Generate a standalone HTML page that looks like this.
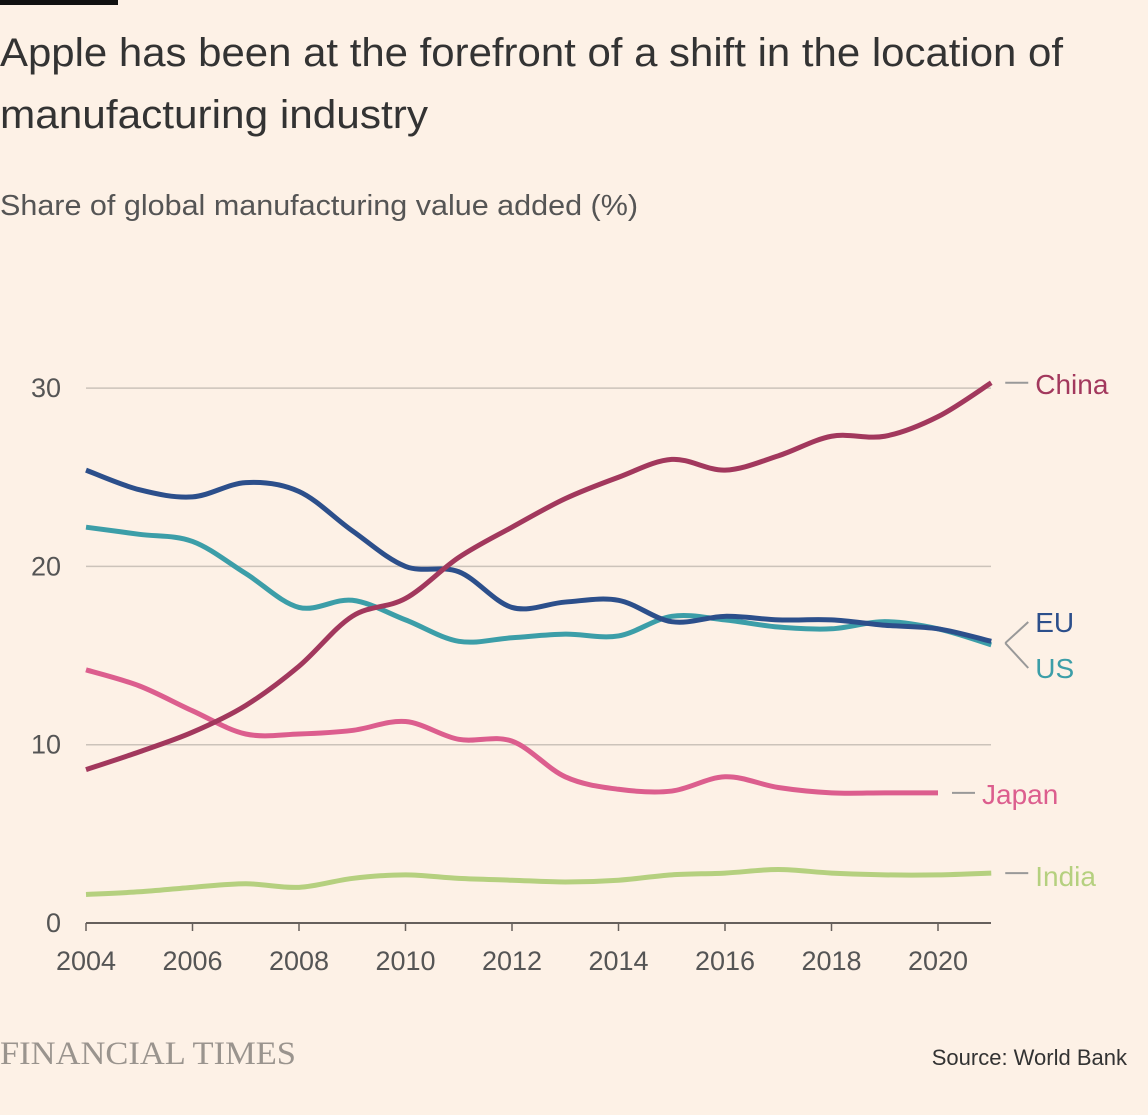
<!DOCTYPE html>
<html><head><meta charset="utf-8"><style>
body{margin:0;background:#fdf1e6;width:1148px;height:1115px;overflow:hidden;font-family:"Liberation Sans",sans-serif;}
svg{display:block}
</style></head><body>
<svg id="chart" width="1148" height="1115">
<rect x="0" y="0" width="118" height="5" fill="#111"/>
<text x="0" y="66" font-size="40" fill="#333" textLength="1063" lengthAdjust="spacingAndGlyphs">Apple has been at the forefront of a shift in the location of</text>
<text x="0" y="128" font-size="40" fill="#333" textLength="428" lengthAdjust="spacingAndGlyphs">manufacturing industry</text>
<text x="0" y="215" font-size="29" fill="#555" textLength="638" lengthAdjust="spacingAndGlyphs">Share of global manufacturing value added (%)</text>
<g id="grid"></g><g id="lines"></g><g id="labels"></g>
<text x="0" y="1064" font-size="33" fill="#9a948e" font-family="Liberation Serif, serif" textLength="296" lengthAdjust="spacingAndGlyphs">FINANCIAL TIMES</text>
<text x="1127" y="1065" font-size="22" fill="#333" text-anchor="end">Source: World Bank</text>
</svg>
<script>
const years=[2004,2005,2006,2007,2008,2009,2010,2011,2012,2013,2014,2015,2016,2017,2018,2019,2020,2021];
const china=[8.6,9.6,10.7,12.2,14.4,17.2,18.2,20.5,22.2,23.8,25.0,26.0,25.4,26.2,27.3,27.3,28.4,30.3];
const eu=[25.4,24.3,23.9,24.7,24.2,22.0,20.0,19.7,17.7,18.0,18.1,16.9,17.2,17.0,17.0,16.7,16.5,15.8];
const us=[22.2,21.8,21.4,19.6,17.7,18.1,17.0,15.8,16.0,16.2,16.1,17.2,17.0,16.6,16.5,16.9,16.5,15.6];
const japan=[14.2,13.3,11.9,10.6,10.6,10.8,11.3,10.3,10.2,8.2,7.5,7.4,8.2,7.6,7.3,7.3,7.3];
const india=[1.6,1.75,2.0,2.2,2.0,2.5,2.7,2.5,2.4,2.3,2.4,2.7,2.8,3.0,2.8,2.7,2.7,2.8];
const yTicks=[0,10,20,30];
const xTicks=[2004,2006,2008,2010,2012,2014,2016,2018,2020];
const NS="http://www.w3.org/2000/svg";
const x=v=>86+(v-2004)*53.25, y=v=>923-v*17.83;
function mk(t,a,p){const e=document.createElementNS(NS,t);for(const k in a)e.setAttribute(k,a[k]);p.appendChild(e);return e;}
const grid=document.getElementById('grid'),lines=document.getElementById('lines'),labels=document.getElementById('labels');
yTicks.forEach(t=>{
 const l=mk('line',{x1:86,x2:991,y1:y(t),y2:y(t),stroke:t===0?'#66605c':'#ccc3ba','stroke-width':t===0?2:1.5},grid);
 
 
 const tx=mk('text',{x:61,y:y(t)+9,'font-size':27,fill:'#555','text-anchor':'end'},grid);tx.textContent=t;
 
 
});
xTicks.forEach(t=>{
 const l=mk('line',{x1:x(t),x2:x(t),y1:923,y2:931,stroke:'#66605c','stroke-width':1.5},grid);
 
 
 const tx=mk('text',{x:x(t),y:970,'font-size':27,fill:'#555','text-anchor':'middle'},grid);tx.textContent=t;
 
 
});
function path(vals){
 const p=vals.map((v,i)=>[x(years[i]),y(v)]);let d='M'+p[0];
 for(let i=0;i<p.length-1;i++){const p0=p[i-1]||p[i],p1=p[i],p2=p[i+1],p3=p[i+2]||p2;
  d+=` C${p1[0]+(p2[0]-p0[0])/6},${p1[1]+(p2[1]-p0[1])/6} ${p2[0]-(p3[0]-p1[0])/6},${p2[1]-(p3[1]-p1[1])/6} ${p2[0]},${p2[1]}`;}
 return d;}
const series=[['india',india,'#b5d07f'],['japan',japan,'#dc5e8e'],['us',us,'#3c9ea8'],['eu',eu,'#2c4f8b'],['china',china,'#a2385d']];
series.forEach(([n,v,c])=>{const e=mk('path',{d:path(v),fill:'none',stroke:c,'stroke-width':5,'stroke-linejoin':'round'},lines);
 
 });
const lbl=[['China',china,'#a2385d',2021,384,null],['India',india,'#b5d07f',2021,876,null],['Japan',japan,'#dc5e8e',2020,794,null],['EU',eu,'#2c4f8b',2021,622,'up'],['US',us,'#3c9ea8',2021,668,'down']];
lbl.forEach(([n,v,c,yr,ly,k])=>{
 const x0=x(yr), yv=y(v[v.length-1]);
 if(k){const e=mk('path',{d:`M${x0+14},${(y(eu[17])+y(us[17]))/2} L${x0+37},${ly}`,stroke:'#999','stroke-width':2,fill:'none'},labels);
  
  }
 else{const e=mk('line',{x1:x0+14,x2:x0+37,y1:yv,y2:yv,stroke:'#999','stroke-width':2},labels);
  
  }
 const t=mk('text',{x:x0+44,y:ly+10,'font-size':28,fill:c},labels);t.textContent=n;
 
 
});
</script>
</body></html>
